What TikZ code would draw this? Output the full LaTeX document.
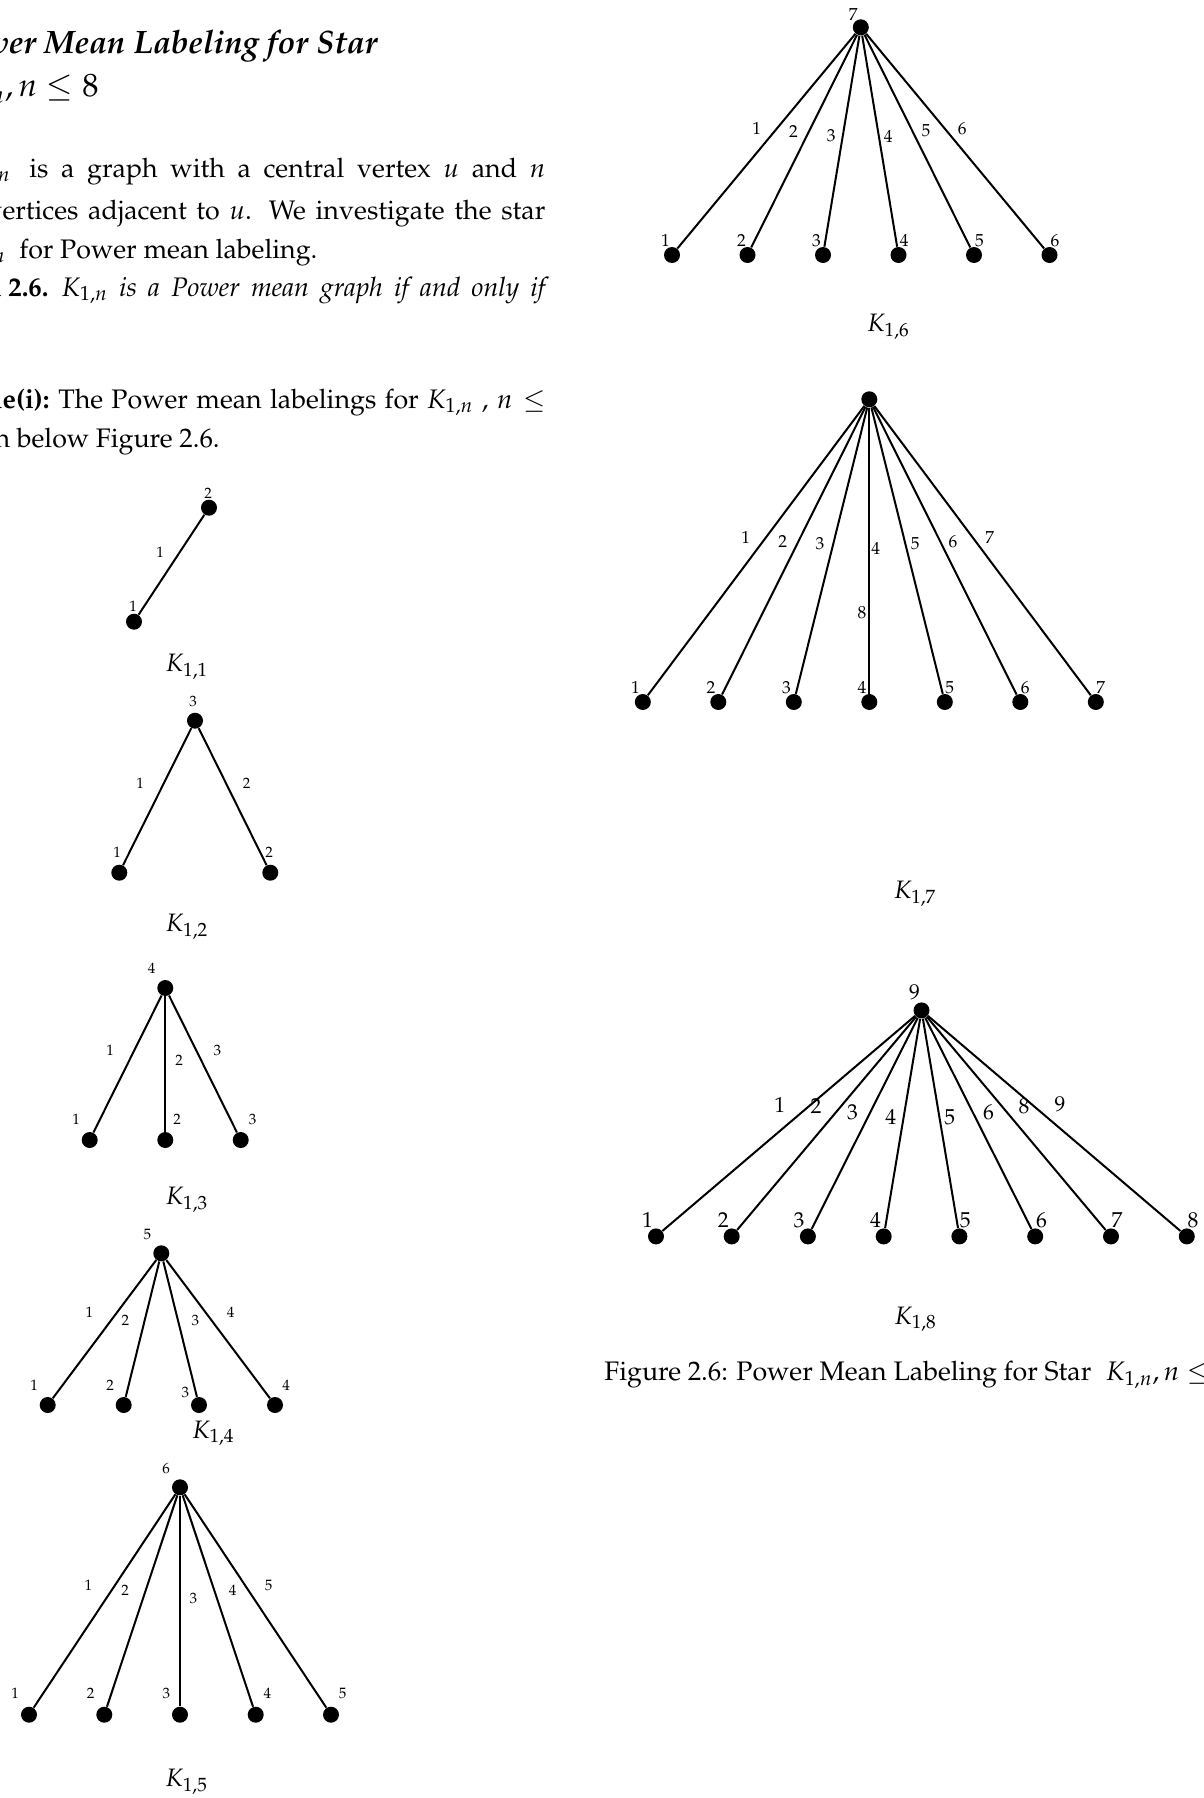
\documentclass[tikz,border=0pt]{standalone}
\usepackage[T1]{fontenc}
\usepackage{mathpazo}
\begin{document}
\begin{tikzpicture}[x=0.5pt,y=-0.5pt,
  vtx/.style={circle,fill=black,draw=none,inner sep=0pt,minimum size=8pt},
  edg/.style={line width=1pt,black},
  labS/.style={inner sep=0pt,font=\fontsize{7.5}{9}\selectfont},
  labM/.style={inner sep=0pt,font=\fontsize{8.7}{10}\selectfont},
  labL/.style={inner sep=0pt,font=\fontsize{10.8}{12}\selectfont},
  gcap/.style={inner sep=0pt,font=\fontsize{12.6}{15}\selectfont},
  body/.style={inner sep=0pt,font=\fontsize{13.4}{19.5}\selectfont},
  head/.style={inner sep=0pt,font=\fontsize{16.2}{22}\selectfont},
]
\useasboundingbox (0,0) rectangle (1204,1798);
\clip (0,0) rectangle (1204,1798);

% ---------- heading and text ----------
\node[head,anchor=base east] (h1) at (378,54) {\bfseries\itshape Power Mean Labeling for Star};
\node[head,anchor=base east] (h2) at (99,97) {$K_{1,n}, n \leq 8$};

\node[body,anchor=base east] (p1a) at (11,177) {$K_{1,n}$};
\node[body,anchor=base west] (p1b) at (29,177) {\makebox[258pt][s]{is a graph with a central vertex $u$ and $n$}};
\node[body,anchor=base west] (p2) at (-13,219) {\makebox[279pt][s]{vertices adjacent to $u$. We investigate the star}};
\node[body,anchor=base east] (p3a) at (6,258) {$K_{1,n}$};
\node[body,anchor=base west] (p3b) at (19,258) {for Power mean labeling.};

\node[body,anchor=base east] (t1a) at (49,296) {\bfseries Theorem 2.6.};
\node[body,anchor=base west] (t1b) at (61,296) {\makebox[242pt][s]{\itshape $K_{1,n}$ is a Power mean graph if and only if}};

\node[body,anchor=base east] (e1a) at (50,408) {\bfseries Example(i):};
\node[body,anchor=base west] (e1b) at (58,408) {\makebox[243.5pt][s]{The Power mean labelings for $K_{1,n}$ , $n \leq$}};
\node[body,anchor=base east] (e2) at (220,447) {shown below Figure 2.6.};

\node[body,anchor=base west] (fig) at (604,1380) {Figure 2.6: Power Mean Labeling for Star\hspace{0.55em}$K_{1,n}, n \leq$};

% ---------- K_{1,1} ----------
\node[vtx] (a1c) at (209,507.7) {};
\node[vtx] (a1v1) at (134,621.7) {};
\draw[edg] (a1c) -- (a1v1);
\node[labS] (a1lc) at (208,493) {2};
\node[labS] (a1l1) at (133,606) {1};
\node[labS] (a1e1) at (160,552.7) {1};
\node[gcap] (a1cap) at (187,667) {$K_{1,1}$};

% ---------- K_{1,2} ----------
\node[vtx] (a2c) at (195,720.7) {};
\foreach \x [count=\i] in {119.3,270.3} {
  \node[vtx] (a2v\i) at (\x,872.7) {};
  \draw[edg] (a2c) -- (a2v\i);
}
\node[labS] (a2lc) at (193,701) {3};
\foreach \x/\y/\t [count=\i] in {117/852.7/1,269/852.7/2}
  \node[labS] (a2l\i) at (\x,\y) {\t};
\foreach \x/\y/\t [count=\i] in {140/783/1,246.7/783/2}
  \node[labS] (a2e\i) at (\x,\y) {\t};
\node[gcap] (a2cap) at (187,926.7) {$K_{1,2}$};

% ---------- K_{1,3} ----------
\node[vtx] (a3c) at (165.3,988) {};
\foreach \x [count=\i] in {89.7,165.3,240.7} {
  \node[vtx] (a3v\i) at (\x,1140) {};
  \draw[edg] (a3c) -- (a3v\i);
}
\node[labS] (a3lc) at (151.7,968.3) {4};
\foreach \x/\y/\t [count=\i] in {76/1119.3/1,177/1119.3/2,252.7/1119.3/3}
  \node[labS] (a3l\i) at (\x,\y) {\t};
\foreach \x/\y/\t [count=\i] in {110/1050.7/1,179/1060/2,217.3/1050/3}
  \node[labS] (a3e\i) at (\x,\y) {\t};
\node[gcap] (a3cap) at (187,1200) {$K_{1,3}$};

% ---------- K_{1,4} ----------
\node[vtx] (a4c) at (161.3,1253.3) {};
\foreach \x [count=\i] in {47.7,123.7,199,275} {
  \node[vtx] (a4v\i) at (\x,1405) {};
  \draw[edg] (a4c) -- (a4v\i);
}
\node[labS] (a4lc) at (147.3,1234) {5};
\foreach \x/\y/\t [count=\i] in {34/1385/1,110/1385/2,185.3/1392.7/3,286/1385/4}
  \node[labS] (a4l\i) at (\x,\y) {\t};
\foreach \x/\y/\t [count=\i] in {89.3/1312.7/1,125.3/1320.7/2,195.3/1320.7/3,230.7/1312.7/4}
  \node[labS] (a4e\i) at (\x,\y) {\t};
\node[gcap] (a4cap) at (213.3,1433.3) {$K_{1,4}$};

% ---------- K_{1,5} ----------
\node[vtx] (a5c) at (180,1487.3) {};
\foreach \x [count=\i] in {29,104.3,180,255.7,331} {
  \node[vtx] (a5v\i) at (\x,1714.7) {};
  \draw[edg] (a5c) -- (a5v\i);
}
\node[labS] (a5lc) at (166,1468.3) {6};
\foreach \x/\t [count=\i] in {15/1,90.7/2,166.3/3,267.3/4,342.7/5}
  \node[labS] (a5l\i) at (\x,1693.3) {\t};
\foreach \x/\y/\t [count=\i] in {88.3/1585.7/1,125/1590.7/2,193.3/1598.3/3,232.7/1590.7/4,268.7/1585/5}
  \node[labS] (a5e\i) at (\x,\y) {\t};
\node[gcap] (a5cap) at (186.7,1781.7) {$K_{1,5}$};

% ---------- K_{1,6} ----------
\node[vtx] (b6c) at (860.8,27.3) {};
\foreach \x [count=\i] in {672.0,747.5,823.0,898.5,974.0,1049.5} {
  \node[vtx] (b6v\i) at (\x,255) {};
  \draw[edg] (b6c) -- (b6v\i);
}
\node[labM] (b6lc) at (853.1,14) {7};
\foreach \x/\t [count=\i] in {665.5/1,741.4/2,816.5/3,904.3/4,979.4/5,1054.9/6}
  \node[labM] (b6l\i) at (\x,240.7) {\t};
\foreach \x/\y/\t [count=\i] in {756.8/128.3/1,793.4/131/2,831.1/136/3,888.1/136/4,925.9/131/5,962.1/128.3/6}
  \node[labM] (b6e\i) at (\x,\y) {\t};
\node[gcap] (b6cap) at (888.5,327) {$K_{1,6}$};

% ---------- K_{1,7} ----------
\node[vtx] (b7c) at (869.3,399.3) {};
\foreach \x [count=\i] in {642.8,718.3,793.8,869.3,944.8,1020.3,1095.8} {
  \node[vtx] (b7v\i) at (\x,702) {};
  \draw[edg] (b7c) -- (b7v\i);
}
\foreach \x/\t [count=\i] in {635.4/1,710.9/2,786.4/3,861.9/4,949.8/5,1025.3/6,1100.8/7}
  \node[labM] (b7l\i) at (\x,687.5) {\t};
\foreach \x/\y/\t [count=\i] in {745.6/537.5/1,782.6/541.4/2,820/543.9/3,875.8/548.2/4,861.9/612.9/8,915.1/543.9/5,952.9/541.4/6,989.8/537.5/7}
  \node[labM] (b7e\i) at (\x,\y) {\t};
\node[gcap] (b7cap) at (915.1,893.9) {$K_{1,7}$};

% ---------- K_{1,8} ----------
\node[vtx] (b8c) at (921.5,1010.4) {};
\foreach \x [count=\i] in {656,731.7,807.9,883.7,959.4,1035.2,1111,1186.8} {
  \node[vtx] (b8v\i) at (\x,1236.4) {};
  \draw[edg] (b8c) -- (b8v\i);
}
\node[labL] (b8lc) at (914.5,992.7) {9};
\foreach \x/\t [count=\i] in {647.4/1,723.2/2,799.1/3,875.6/4,965.3/5,1041.5/6,1116.9/7,1193/8}
  \node[labL] (b8l\i) at (\x,1219.9) {\t};
\foreach \x/\y/\t [count=\i] in {779.7/1104.8/1,816/1106.5/2,852.4/1111.8/3,890.7/1117.4/4,949.8/1117.4/5,988.5/1111.8/6,1024.1/1106.5/8,1060/1104.2/9}
  \node[labL] (b8e\i) at (\x,\y) {\t};
\node[gcap] (b8cap) at (915.6,1319.2) {$K_{1,8}$};
\end{tikzpicture}
\end{document}
